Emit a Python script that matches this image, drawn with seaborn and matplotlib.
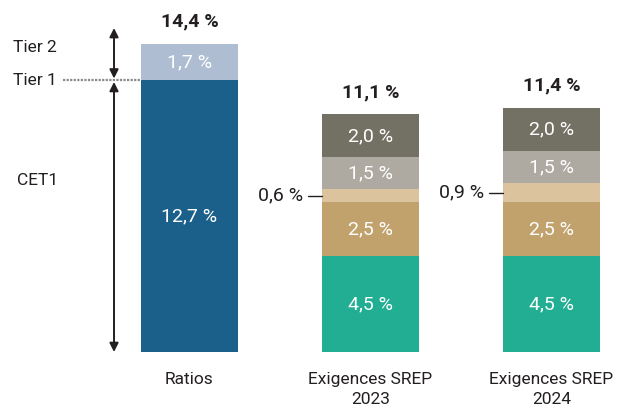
import matplotlib
matplotlib.use("Agg")
import matplotlib.pyplot as plt
import seaborn as sns
import pandas as pd
import numpy as np

# Capital ratios vs SREP requirements (in % of RWA)
categories = ["Ratios", "Exigences SREP\n2023", "Exigences SREP\n2024"]

ratio_segments = ["CET1", "Tier 2"]
ratio_values = [12.7, 1.7]

srep_segments = ["P1R", "P2R", "CCyB", "CCB", "Coussin systémique"]
srep_2023 = [4.5, 2.5, 0.6, 1.5, 2.0]
srep_2024 = [4.5, 2.5, 0.9, 1.5, 2.0]

palette = {
    "CET1": "#1b608a",
    "Tier 2": "#afbdd3",
    "P1R": "#21ae92",
    "P2R": "#c1a26d",
    "CCyB": "#dac39d",
    "CCB": "#aea9a1",
    "Coussin systémique": "#737064",
}

rows = []
for cat, segs, vals in [(categories[0], ratio_segments, ratio_values),
                        (categories[1], srep_segments, srep_2023),
                        (categories[2], srep_segments, srep_2024)]:
    cum = 0.0
    for lvl, (s, v) in enumerate(zip(segs, vals)):
        rows.append(dict(cat=cat, seg=s, level=lvl, value=v,
                         bottom=cum, top=cum + v))
        cum += v
df = pd.DataFrame(rows)

sns.set_theme(style="white")
plt.rcParams["font.family"] = ["Roboto", "DejaVu Sans"]

fig = plt.figure(figsize=(6.22, 4.19), dpi=100)
ax = fig.add_axes([0, 0, 1, 1])

bar_w = 0.536
# stacked bars: draw cumulative heights from the top level down
for lvl in sorted(df["level"].unique(), reverse=True):
    sub = df[df["level"] == lvl]
    sns.barplot(data=sub, x="cat", y="top", hue="seg", order=categories,
                palette=palette, dodge=False, width=bar_w, legend=False,
                saturation=1, linewidth=0, ax=ax)

ax.set_xlim(-1.047, 2.39)
ax.set_ylim(-3.13, 16.45)
ax.axis("off")

dark = "#231f20"
fmt = lambda v: f"{v:.1f}".replace(".", ",") + " %"
pos = {c: i for i, c in enumerate(categories)}

# segment values
for _, r in df.iterrows():
    x = pos[r["cat"]]
    mid = (r["bottom"] + r["top"]) / 2
    if r["seg"] == "CCyB":
        ax.text(x - bar_w / 2 - 0.105, mid, fmt(r["value"]), ha="right",
                va="center", fontsize=14, color=dark)
        ax.plot([x - bar_w / 2 - 0.075, x - bar_w / 2], [mid, mid],
                color=dark, lw=1)
    else:
        ax.text(x, mid, fmt(r["value"]), ha="center", va="center",
                fontsize=14, color="white")

# totals
totals = df.groupby("cat", sort=False)["top"].max()
for cat, tot in totals.items():
    ax.annotate(fmt(tot), (pos[cat], tot), xytext=(0, 16),
                textcoords="offset points", ha="center", va="center",
                fontsize=14, fontweight="bold", color=dark)

# category labels
for cat in categories:
    ax.text(pos[cat], -0.95, cat, ha="center", va="top", fontsize=12.5,
            color=dark, linespacing=1.4)

# Tier / CET1 brackets on the left
cet1 = ratio_values[0]
total_r = sum(ratio_values)
ax_x = -0.417
arrow = dict(arrowstyle="<|-|>", color=dark, lw=1.4, shrinkA=0, shrinkB=0,
             mutation_scale=13)
ax.annotate("", xy=(ax_x, total_r + 0.74), xytext=(ax_x, cet1 + 0.08),
            arrowprops=arrow)
ax.annotate("", xy=(ax_x, cet1 - 0.08), xytext=(ax_x, 0), arrowprops=arrow)
ax.plot([-0.70, -bar_w / 2], [cet1, cet1], color="#8a8a8a", lw=1.6,
        ls=(0, (1, 0.6)))
ax.text(-0.975, total_r - 0.15, "Tier 2", ha="left", va="center",
        fontsize=12.5, color=dark)
ax.text(-0.975, cet1, "Tier 1", ha="left", va="center", fontsize=12.5,
        color=dark)
ax.text(-0.955, 8.0, "CET1", ha="left", va="center", fontsize=12.5,
        color=dark)

fig.savefig("out.png", dpi=100)
